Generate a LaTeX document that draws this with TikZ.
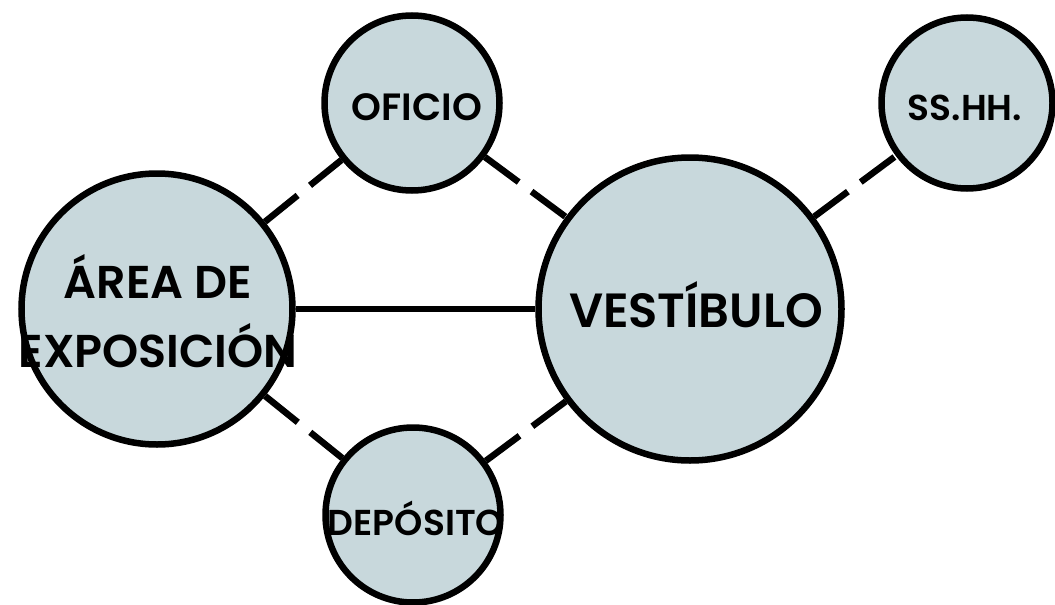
\documentclass[tikz,border=0pt]{standalone}
\usepackage{fontspec}
\setmainfont{Poppins}[BoldFont={Poppins SemiBold}]
\usepackage{tikz}
\usetikzlibrary{positioning}
\definecolor{roomfill}{RGB}{200,216,220}
\tikzset{
  roombox/.style={
    circle,
    draw=black,
    fill=roomfill,
    line width=6.5pt,
    inner sep=0pt
  },
  roomtext/.style={
    align=center,
    inner sep=0pt,
    anchor=base
  },
  solidlink/.style={line width=6.5pt},
  dashlink/.style={line width=6.5pt, dash pattern=on 42pt off 16pt}
}

\begin{document}
\begin{tikzpicture}[x=1pt,y=-1pt]
  \useasboundingbox (0,0) rectangle (1055,605);
  % rooms
  \node[roombox,minimum size=271pt] (area) at (157,309) {};
  \node[roombox,minimum size=303pt] (vest) at (690,309) {};
  \node[roombox,minimum size=175pt] (ofi) at (412,103) {};
  \node[roombox,minimum size=175pt] (dep) at (413,515) {};
  \node[roombox,minimum size=171pt] (ssh) at (967,103) {};
  % links
  \draw[solidlink] (area) -- (vest);
  \draw[dashlink] (area) -- (ofi);
  \draw[dashlink] (ofi) -- (vest);
  \draw[dashlink] (area) -- (dep);
  \draw[dashlink] (dep) -- (vest);
  \draw[dashlink] (vest) -- (ssh);
  % names
  \node[roomtext,font=\bfseries\fontsize{46}{69}\selectfont] (areaname) at (158,367) {ÁREA DE\\EXPOSICIÓN};
  \node[roomtext,font=\bfseries\fontsize{48}{60}\selectfont] (vestname) at (696,327) {VESTÍBULO};
  \node[roomtext,font=\bfseries\fontsize{38}{44}\selectfont] (ofiname) at (417,120) {OFICIO};
  \node[roomtext,font=\bfseries\fontsize{36}{42}\selectfont] (depname) at (416,535) {DEPÓSITO};
  \node[roomtext,font=\bfseries\fontsize{36}{42}\selectfont] (sshname) at (965,120) {SS.HH.};
\end{tikzpicture}
\end{document}
